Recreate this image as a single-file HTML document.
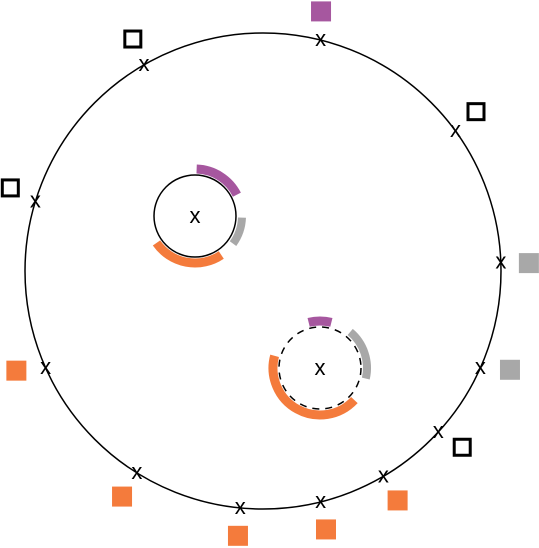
<!DOCTYPE html>
<html><head><meta charset="utf-8"><style>
html,body{margin:0;padding:0;background:#fff;}
svg{display:block;font-family:"Liberation Sans",sans-serif;}
</style></head><body>
<svg id="chart" width="539" height="548" viewBox="0 0 539 548" xmlns="http://www.w3.org/2000/svg">
<circle cx="263" cy="271" r="238" fill="none" stroke="#000" stroke-width="1.5"/>
<g id="arcs"></g>
<g id="nodes"></g>
</svg>
<script>
const nodeAngles = [-120, -76, -36, -163, -2, 156, 24, 42.6, 122, 95.5, 76, 59.6];
const squareAngles = [-119.3, -77.4, -36.8, -161.8, -1.7, 158, 21.8, 41.5, 122, 95.4, 76.3, 59.6];
const nodeKinds = ["outline","purple","outline","outline","gray","orange","gray","outline","orange","orange","orange","orange"];
const clusterCenters = [[195,216],[320,368]];
const clusterDashed = [false, true];
const arcCluster = [0,0,0,1,1,1];
const arcStart = [-88,2,56,-104,-50,43];
const arcEnd = [-27,36,145,-76,13,195];
const arcKind = ["purple","gray","orange","purple","gray","orange"];

const colors = {purple:"#a6579f", gray:"#a8a8a8", orange:"#f47b3c"};
const NS = "http://www.w3.org/2000/svg";
const CX = 263, CY = 271, R = 238, SR = 266;
const rad = d => d*Math.PI/180;
const nodesG = document.getElementById('nodes');
const arcsG = document.getElementById('arcs');

function mkX(x, y, name){
  const t = document.createElementNS(NS,'text');
  t.setAttribute('x', x); t.setAttribute('y', y+7);
  t.setAttribute('text-anchor','middle'); t.setAttribute('font-size','22');
  t.textContent = 'x';
  
  
  return t;
}

nodeAngles.forEach((a,i)=>{
  const x = CX + R*Math.cos(rad(a)), y = CY + R*Math.sin(rad(a));
  nodesG.appendChild(mkX(x, y-1, 'node-marker-'+(i+1)));
  const sa = squareAngles[i];
  const sx = CX + SR*Math.cos(rad(sa)), sy = CY + SR*Math.sin(rad(sa));
  const s = document.createElementNS(NS,'rect');
  const k = nodeKinds[i];
  if(k==='outline'){
    s.setAttribute('x', sx-8); s.setAttribute('y', sy-8);
    s.setAttribute('width',16); s.setAttribute('height',16);
    s.setAttribute('fill','none'); s.setAttribute('stroke','#000'); s.setAttribute('stroke-width','3');
  } else {
    s.setAttribute('x', sx-10); s.setAttribute('y', sy-10);
    s.setAttribute('width',20); s.setAttribute('height',20);
    s.setAttribute('fill', colors[k]);
  }
  
  
  nodesG.appendChild(s);
});

clusterCenters.forEach((c,i)=>{
  const ci = document.createElementNS(NS,'circle');
  ci.setAttribute('cx',c[0]); ci.setAttribute('cy',c[1]); ci.setAttribute('r',41);
  ci.setAttribute('fill','#fff'); ci.setAttribute('stroke','#000'); ci.setAttribute('stroke-width','1.5');
  if(clusterDashed[i]) ci.setAttribute('stroke-dasharray','7,6');
  
  
  arcsG.appendChild(ci);
  arcsG.appendChild(mkX(c[0], c[1], 'cluster-center-'+(i+1)));
});

arcStart.forEach((s,i)=>{
  const c = clusterCenters[arcCluster[i]];
  const e = arcEnd[i], r = 47;
  const x1 = c[0]+r*Math.cos(rad(s)), y1 = c[1]+r*Math.sin(rad(s));
  const x2 = c[0]+r*Math.cos(rad(e)), y2 = c[1]+r*Math.sin(rad(e));
  const large = (e-s)>180?1:0;
  const p = document.createElementNS(NS,'path');
  p.setAttribute('d',`M${x1},${y1} A${r},${r} 0 ${large} 1 ${x2},${y2}`);
  p.setAttribute('fill','none'); p.setAttribute('stroke', colors[arcKind[i]]);
  p.setAttribute('stroke-width', arcKind[i]==='gray' ? 8 : 9);
  
  
  arcsG.insertBefore(p, arcsG.firstChild);
});
</script>
</body></html>
